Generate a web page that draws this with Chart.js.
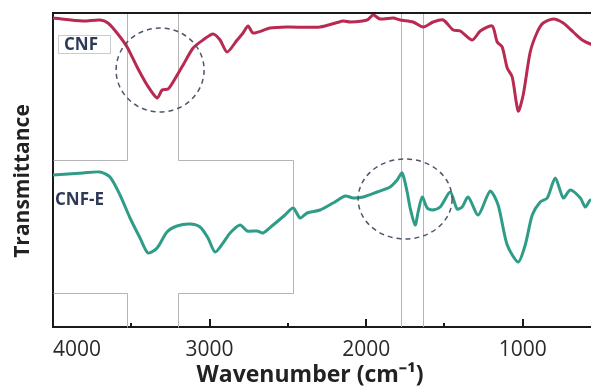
<!DOCTYPE html>
<html>
<head>
<meta charset="utf-8">
<script src="https://cdn.jsdelivr.net/npm/chart.js@4.4.0/dist/chart.umd.min.js"></script>
<style>
  html, body { margin: 0; padding: 0; background: #fff; overflow: hidden; }
  #caixa { width: 601px; height: 389px; }
</style>
</head>
<body>
<div id="caixa"><canvas id="espectro"></canvas></div>
<script>
// series (wavenumber cm-1, transmittance in arbitrary units)
const cnf_numero_onda = [4000, 3808, 3700, 3649, 3591, 3527, 3463, 3399, 3335, 3303, 3265, 3233, 3169, 3105, 3042, 2978,
  2933, 2888, 2824, 2786, 2754, 2722, 2613, 2505, 2294, 2147, 2102, 1994, 1955, 1911, 1827, 1783, 1700, 1636, 1572,
  1508, 1444, 1399, 1322, 1271, 1195, 1163, 1131, 1099, 1067, 1029, 997, 952, 907, 869, 805, 741, 677, 620, 568, 540];
const cnf_transmitancia = [309, 306, 307, 304, 294, 280, 260, 242, 229, 237, 238, 245, 262, 279, 287, 293,
  287, 275, 287, 294, 301, 294, 299, 300, 300, 306, 305, 307, 312, 308, 309, 307, 305, 300, 305,
  307, 297, 296, 287, 296, 301, 285, 280, 259, 250, 216, 232, 275, 295, 304, 308, 304, 295, 287, 283, 282];

const cnfe_numero_onda = [4000, 3808, 3700, 3636, 3572, 3508, 3444, 3393, 3335, 3272, 3208, 3125, 3061, 3010, 2965, 2914,
  2869, 2805, 2760, 2696, 2658, 2594, 2518, 2466, 2422, 2377, 2294, 2211, 2134, 2083, 2019, 1930, 1847, 1802, 1770,
  1738, 1719, 1687, 1668, 1642, 1610, 1578, 1527, 1463, 1419, 1387, 1348, 1284, 1208, 1157, 1099, 1029, 984, 939,
  888, 843, 792, 741, 696, 632, 600, 568, 540];
const cnfe_transmitancia = [152, 154, 155, 150, 132, 109, 89, 74, 79, 95, 101, 103, 100, 89, 75, 84,
  94, 102, 96, 96, 94, 102, 112, 119, 109, 114, 117, 124, 131, 129, 130, 135, 140, 147, 154,
  135, 119, 102, 115, 130, 119, 117, 120, 135, 118, 120, 130, 112, 136, 122, 82, 65, 82, 112,
  125, 129, 149, 129, 137, 129, 120, 127, 125];

const ticks_x = [500, 1000, 1500, 2000, 2500, 3000, 3500, 4000];
const linhas_banda = [1775, 1635];

const fonte = "'Open Sans', sans-serif";

function pontos(xs, ys) {
  return xs.map((x, i) => ({ x: x, y: ys[i] }));
}

const enfeites = {
  id: 'enfeites',
  beforeDatasetsDraw(chart) {
    const ctx = chart.ctx;
    const sx = chart.scales.x, sy = chart.scales.y;
    const a = chart.chartArea;
    ctx.save();
    ctx.strokeStyle = '#b4b4b4';
    ctx.lineWidth = 1;
    // cross shaped outline
    const x1 = sx.getPixelForValue(3527), x2 = sx.getPixelForValue(3201), x3 = sx.getPixelForValue(2466);
    const y1 = sy.getPixelForValue(167), y2 = sy.getPixelForValue(34);
    const seg = [
      [x1, a.top, x1, y1], [a.left, y1, x1, y1],
      [x2, a.top, x2, y1], [x2, y1, x3, y1], [x3, y1, x3, y2], [x2, y2, x3, y2], [x2, y2, x2, a.bottom],
      [a.left, y2, x1, y2], [x1, y2, x1, a.bottom]
    ];
    seg.forEach(s => {
      ctx.beginPath();
      ctx.moveTo(Math.round(s[0]) + 0.5, Math.round(s[1]) + 0.5);
      ctx.lineTo(Math.round(s[2]) + 0.5, Math.round(s[3]) + 0.5);
      ctx.stroke();
    });
    linhas_banda.forEach(w => {
      const px = Math.round(sx.getPixelForValue(w)) + 0.5;
      ctx.beginPath();
      ctx.moveTo(px, a.top);
      ctx.lineTo(px, a.bottom);
      ctx.stroke();
    });
    ctx.restore();
  },
  afterDatasetsDraw(chart) {
    const ctx = chart.ctx;
    const sx = chart.scales.x, sy = chart.scales.y;
    const a = chart.chartArea;
    ctx.save();
    // dashed circles round the bands
    ctx.strokeStyle = '#4d5668';
    ctx.lineWidth = 1.5;
    ctx.setLineDash([5, 4]);
    ctx.beginPath();
    ctx.ellipse(sx.getPixelForValue(3316), sy.getPixelForValue(257), 44, 42, 0, 0, Math.PI * 2);
    ctx.stroke();
    ctx.beginPath();
    ctx.ellipse(sx.getPixelForValue(1751), sy.getPixelForValue(128), 47, 40, 0, 0, Math.PI * 2);
    ctx.stroke();
    ctx.setLineDash([]);

    // top frame line
    ctx.strokeStyle = '#1a1a1a';
    ctx.lineWidth = 2;
    ctx.beginPath();
    ctx.moveTo(a.left, a.top);
    ctx.lineTo(a.right, a.top);
    ctx.stroke();

    // inward tick marks
    ticks_x.forEach(w => {
      const px = Math.round(sx.getPixelForValue(w));
      const len = w % 1000 === 0 ? 8 : 4;
      ctx.beginPath();
      ctx.moveTo(px, a.bottom);
      ctx.lineTo(px, a.bottom - len);
      ctx.stroke();
    });

    // sample labels
    ctx.textBaseline = 'middle';
    ctx.textAlign = 'left';
    ctx.fillStyle = '#fff';
    ctx.fillRect(a.left + 5, a.top + 22, 52, 18);
    ctx.strokeStyle = '#c4ccd4';
    ctx.lineWidth = 1;
    ctx.strokeRect(a.left + 5.5, a.top + 22.5, 52, 18);
    ctx.font = 'bold 17px ' + fonte;
    ctx.fillStyle = '#2c3a58';
    ctx.fillText('CNF', a.left + 11, a.top + 32);
    ctx.fillText('CNF-E', a.left + 2, sy.getPixelForValue(127));
    ctx.restore();
  },
  afterDraw(chart) {
    // axis titles, placed as in the source figure
    const ctx = chart.ctx;
    ctx.save();
    ctx.fillStyle = '#222';
    ctx.textAlign = 'center';
    ctx.textBaseline = 'middle';
    ctx.font = 'bold 23px ' + fonte;
    ctx.fillText('Wavenumber (cm⁻¹)', 310, 375);
    ctx.translate(23, 181);
    ctx.rotate(-Math.PI / 2);
    ctx.font = 'bold 21px ' + fonte;
    ctx.fillText('Transmittance', 0, 0);
    ctx.restore();
  }
};

const config = {
  type: 'line',
  data: {
    datasets: [{
      label: 'CNF',
      data: pontos(cnf_numero_onda, cnf_transmitancia),
      borderColor: '#b82a52',
      borderWidth: 3,
      pointRadius: 0,
      tension: 0.25
    }, {
      label: 'CNF-E',
      data: pontos(cnfe_numero_onda, cnfe_transmitancia),
      borderColor: '#2f9c88',
      borderWidth: 3,
      pointRadius: 0,
      tension: 0.25
    }]
  },
  options: {
    responsive: true,
    maintainAspectRatio: false,
    animation: false,
    devicePixelRatio: 1,
    layout: { padding: { top: 13, left: 0, right: 0, bottom: 0 } },
    plugins: {
      legend: { display: false },
      tooltip: { enabled: false }
    },
    scales: {
      x: {
        type: 'linear',
        reverse: true,
        min: 500,
        max: 4000,
        afterFit: (s) => { s.height = 62; },
        afterBuildTicks: (s) => { s.ticks = ticks_x.map(v => ({ value: v })); },
        grid: { display: false },
        border: { display: true, color: '#1a1a1a', width: 2 },
        ticks: {
          autoSkip: false,
          maxRotation: 0,
          align: 'inner',
          padding: 2,
          color: '#2a2a2a',
          font: { family: fonte, size: 21 },
          callback: (v) => (v % 1000 === 0 ? String(v) : '')
        }
      },
      y: {
        min: 0,
        max: 314,
        afterFit: (s) => { s.width = 53; },
        grid: { display: false },
        border: { display: true, color: '#1a1a1a', width: 2 },
        ticks: { display: false }
      }
    }
  },
  plugins: [enfeites]
};

const grafico = new Chart(document.getElementById('espectro'), config);
</script>
</body>
</html>
